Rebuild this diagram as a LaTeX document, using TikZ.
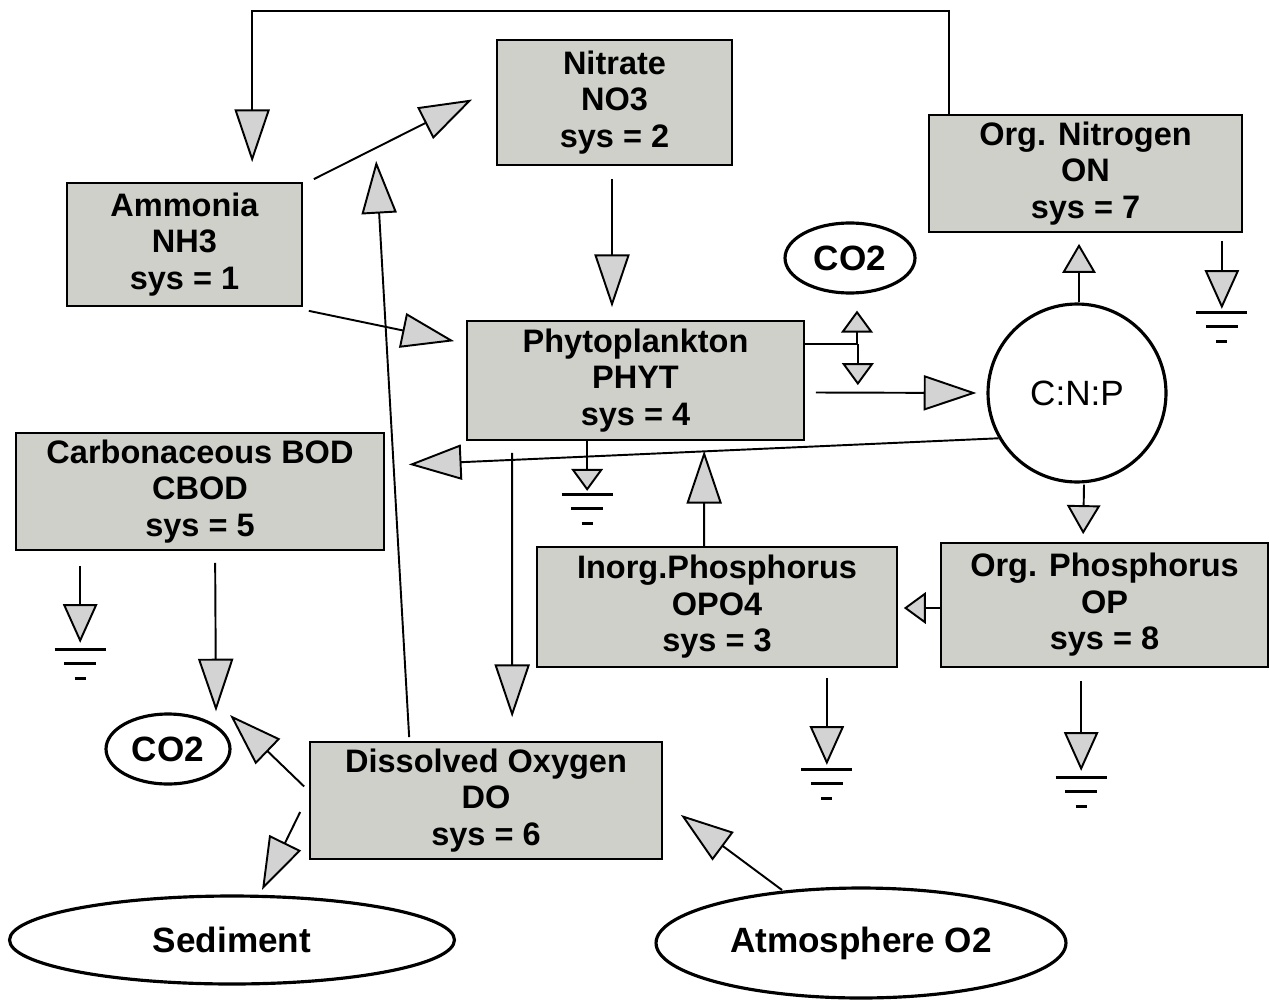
\documentclass[tikz,border=0pt]{standalone}
\usepackage{fontspec}
\setmainfont{Liberation Sans}
\usetikzlibrary{arrows.meta,calc,shapes.geometric}
\definecolor{pool}{HTML}{D0D0CB}
\definecolor{tipfill}{HTML}{D3D3D3}

\begin{document}
\begin{tikzpicture}[x=0.02cm,y=-0.02cm,line width=1.1pt,
  font=\fontsize{18.5}{20.8}\selectfont\bfseries,
  state/.style={draw,fill=pool,line width=1pt,align=center,inner sep=0pt},
  outside/.style={draw,ellipse,line width=1.8pt,inner sep=0pt,font=\fontsize{20}{20}\selectfont\bfseries},
  bigarr/.style={-{Triangle[length=30pt,width=20pt,fill=tipfill]}},
  midarr/.style={-{Triangle[length=22pt,width=19.5pt,fill=tipfill]}},
  stubarr/.style={-{Triangle[length=16.5pt,width=19pt,fill=tipfill]}},
  smallarr/.style={-{Triangle[length=12.5pt,width=18pt,fill=tipfill]}},
  sink/.pic={\draw[line width=1.7pt] (-25.5,0) -- (25.5,0) (-16,14) -- (16,14) (-5.5,29) -- (5.5,29);}]
  \useasboundingbox (0,0) rectangle (1270,1000);

  % State variables
  \node[state,minimum width=4.7cm,minimum height=2.5cm] (nit) at (614.5,102.5) {Nitrate\\NO3\\sys = 2};
  \node[state,minimum width=6.26cm,minimum height=2.34cm] (orgn) at (1085.5,173.5) {Org. Nitrogen\\ON\\sys = 7};
  \node[state,minimum width=4.7cm,minimum height=2.46cm] (amm) at (184.5,244.5) {Ammonia\\NH3\\sys = 1};
  \node[state,minimum width=6.74cm,minimum height=2.38cm] (phyt) at (635.5,380.5) {Phytoplankton\\PHYT\\sys = 4};
  \node[state,minimum width=7.36cm,minimum height=2.34cm] (cbod) at (200,491.5) {Carbonaceous BOD\\CBOD\\sys = 5};
  \node[state,minimum width=7.2cm,minimum height=2.4cm] (inp) at (717,607) {Inorg.Phosphorus\\OPO4\\sys = 3};
  \node[state,minimum width=6.54cm,minimum height=2.48cm] (orgp) at (1104.5,605) {Org. Phosphorus\\OP\\sys = 8};
  \node[state,minimum width=7.04cm,minimum height=2.34cm] (do) at (486,800.5) {Dissolved Oxygen\\DO\\sys = 6};

  % Outside pools
  \node[outside,minimum width=2.6cm,minimum height=1.4cm] (co2a) at (850,258) {CO2};
  \node[draw,circle,line width=1.8pt,minimum size=3.56cm,font=\fontsize{20}{20}\selectfont] (cnp) at (1077,393) {C:N:P};
  \node[outside,minimum width=2.48cm,minimum height=1.4cm] (co2b) at (168,749) {CO2};
  \node[outside,minimum width=8.9cm,minimum height=1.76cm] (sed) at (232,940) {Sediment};
  \node[outside,minimum width=8.2cm,minimum height=2.2cm] (atm) at (861,943) {Atmosphere O2};

  % Nitrogen loop
  \draw[bigarr] ($(orgn.north west)+(21,0)$) -- ++(0,-103) -| ($(amm.north west)+(186,-20)$);
  \draw[bigarr] ($(amm.north east)+(11,-3)$) -- ($(nit.west)+(-24,-3)$);
  \draw[bigarr] ($(amm.south east)+(6,4)$) -- ($(phyt.north west)+(-12,21)$);
  \draw[bigarr] ($(nit.south)+(-2.5,13)$) -- ($(phyt.north)+(-23.5,-13)$);

  % Phytoplankton and stoichiometry
  \draw[bigarr] ($(phyt.east)+(11,12)$) -- ($(cnp.west)+(-10,0)$);
  \draw[smallarr] ($(phyt.north east)+(0,24)$) -| ($(co2a.south)+(7,16)$);
  \draw[smallarr] ($(phyt.north east)+(53,24)$) -- ++(0,41);
  \draw[stubarr] ($(cnp.north)+(2,0)$) -- ($(orgn.south)+(-6.5,11)$);
  \draw[bigarr] (cnp.210) -- ($(cbod.east)+(24,-27)$);
  \draw[stubarr] ($(cnp.south)+(7,1)$) -- ($(orgp.north west)+(143,-8)$);

  % Phosphorus
  \draw[smallarr] ($(orgp.west)+(0,3)$) -- ($(inp.east)+(6,1)$);
  \draw[bigarr] ($(inp.north west)+(168,0)$) -- ($(phyt.south west)+(238,10)$);

  % Oxygen
  \draw[bigarr] ($(phyt.south west)+(46,12)$) -- ($(do.north west)+(203,-24)$);
  \draw[bigarr] ($(do.north west)+(100,-4)$) -- ($(nit.south west)+(-120,-5)$);
  \draw[bigarr] ($(cbod.south west)+(200,12)$) -- ($(co2b.north)+(48,-1)$);
  \draw[bigarr] ($(do.west)+(-5,-14)$) -- ($(co2b.center)+(62,-34)$);
  \draw[bigarr] ($(do.west)+(-9,11.5)$) -- ($(sed.center)+(30,-50)$);
  \draw[bigarr] ($(atm.center)+(-79,-53)$) -- ($(do.south east)+(18,-45)$);

  % Settling losses
  \draw[midarr] ($(orgn.south east)+(-21,8)$) -- ++(0,68) coordinate (gon);
  \pic at ($(gon)+(0,4)$) {sink};
  \draw[smallarr] ($(phyt.south west)+(121,0)$) -- ++(0,50) coordinate (gph);
  \pic at ($(gph)+(0,4)$) {sink};
  \draw[midarr] ($(cbod.south west)+(65,15)$) -- ++(0,77) coordinate (gcb);
  \pic at ($(gcb)+(0,7)$) {sink};
  \draw[midarr] ($(inp.south east)+(-71,10)$) -- ++(0,87) coordinate (gip);
  \pic at ($(gip)+(0,5)$) {sink};
  \draw[midarr] ($(orgp.south west)+(141,13)$) -- ++(0,90) coordinate (gop);
  \pic at ($(gop)+(0,7)$) {sink};
\end{tikzpicture}
\end{document}
